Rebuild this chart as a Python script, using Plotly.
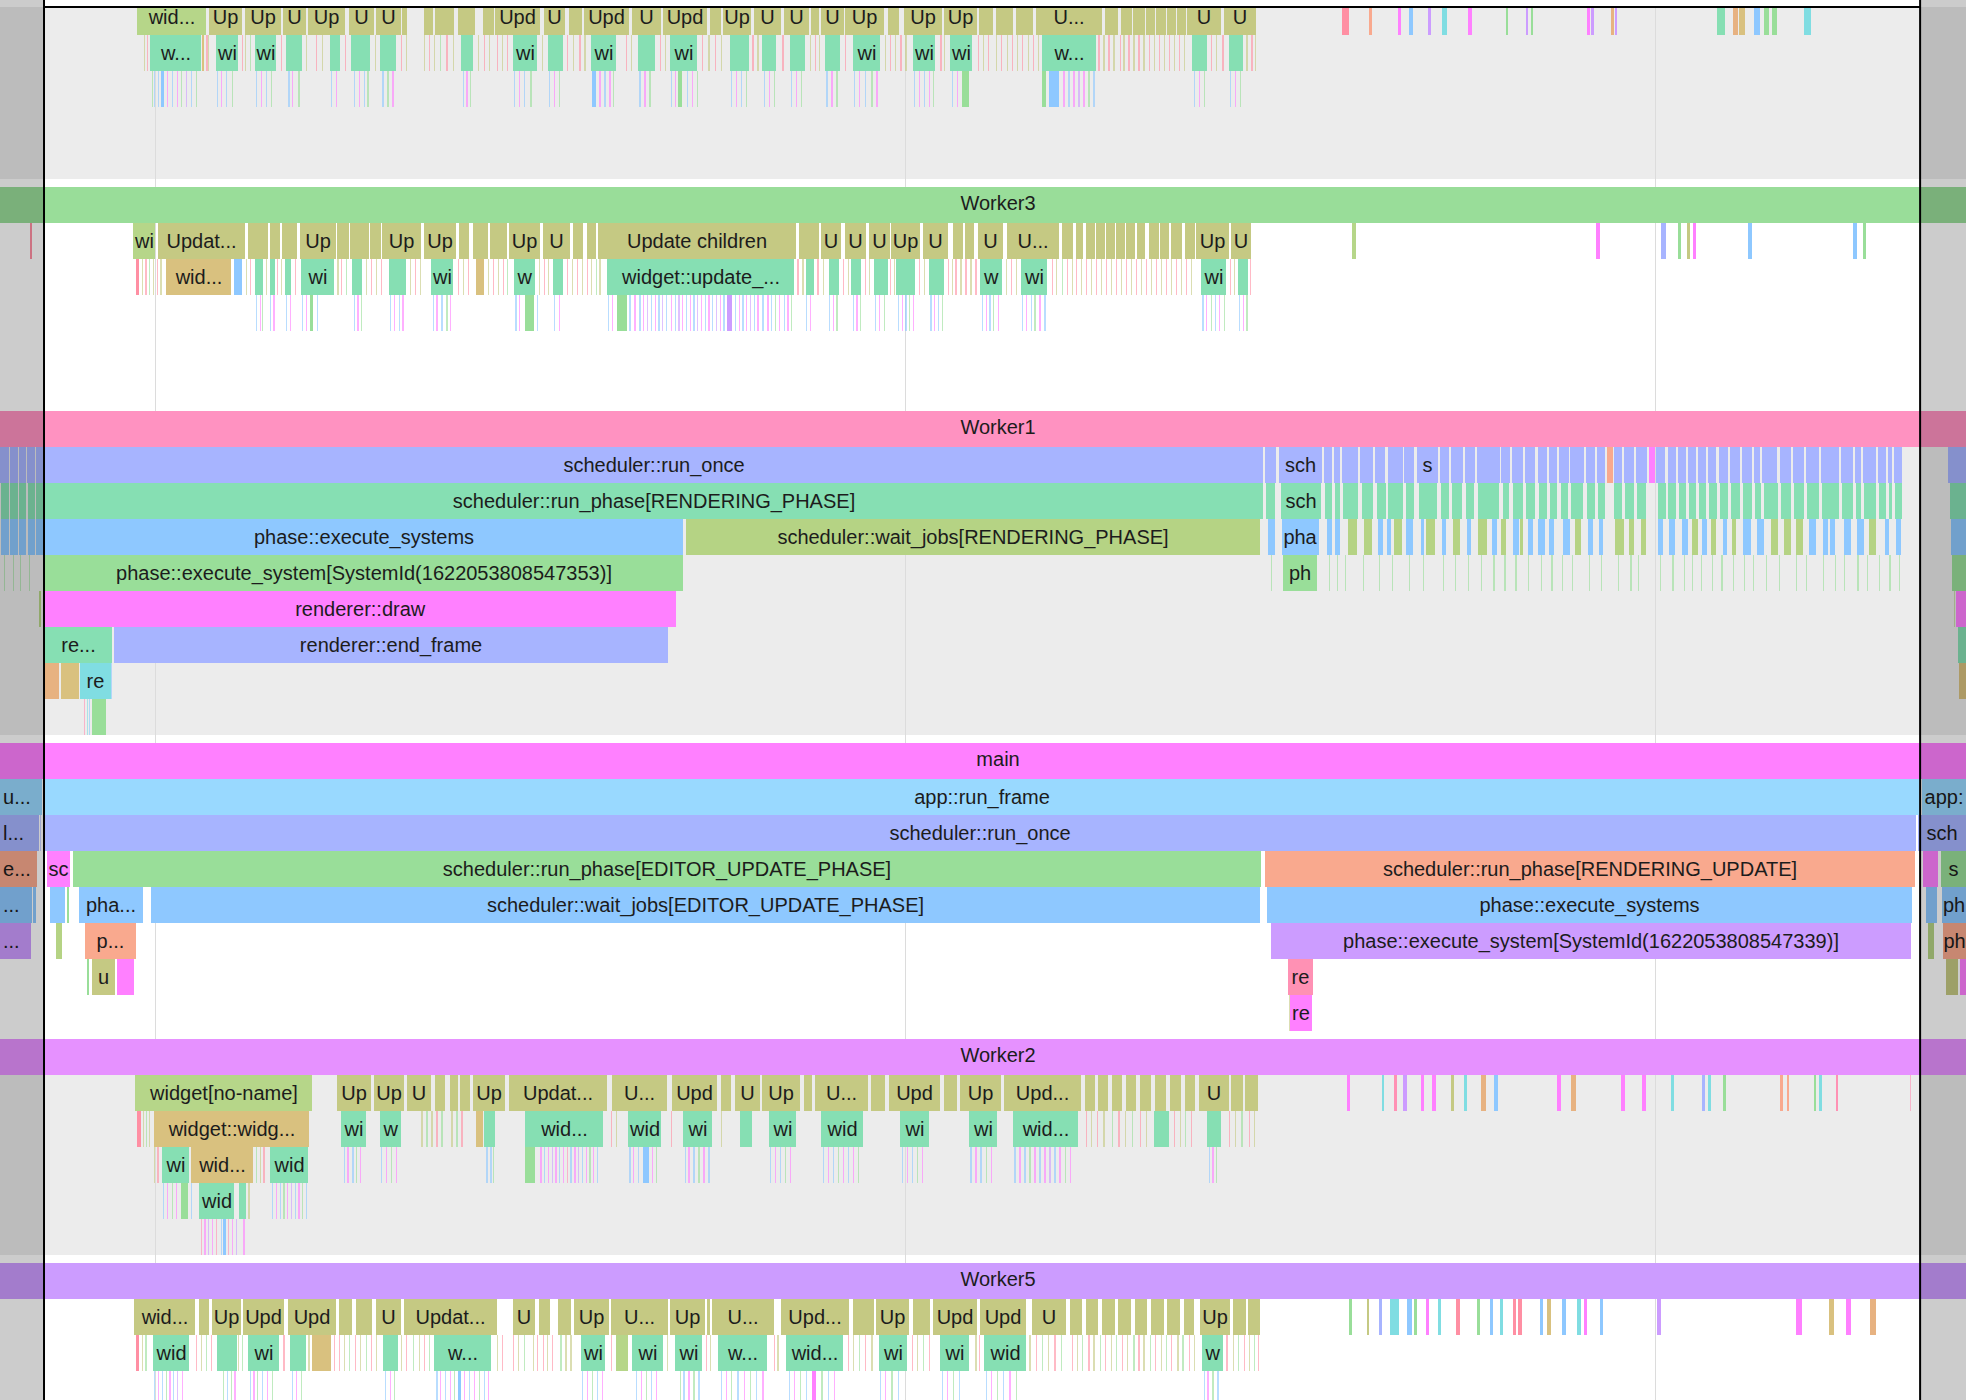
import plotly.graph_objects as go

# ---------------- view / layout constants (time axis in "ticks") ----------------
T_MIN, T_MAX = 0, 1568            # visible time window
VIEW_START, VIEW_END = 35.1, 1531.4   # selected viewport (outside is dimmed)
GRID_T = [124, 722, 1320]         # time grid lines
HEADER_TEXT_T = 796

LANES = ["Worker4", "Worker3", "Worker1", "main", "Worker2", "Worker5"]
LANE_ROWS = [5, 5, 8, 7, 5, 5]
LANE_HEADER_KIND = ["cy", "h_w3", "h_w1", "h_main", "h_w2", "h_w5"]

PALETTE = {
    "ol": "#c5c983", "yg": "#b6d689", "tq": "#86dfb3", "tan": "#d9c17f",
    "or": "#e7b281", "pb": "#a7b4ff", "sky": "#8ec8ff", "lsky": "#99d9ff",
    "gr": "#99de99", "og": "#b5d384", "mg": "#ff80ff", "pk": "#ff91b4",
    "rd": "#ff8fa3", "sal": "#f9a98e", "lav": "#cc9cff", "cy": "#80dde2",
    "h_w3": "#99dd99", "h_w1": "#ff92c1", "h_main": "#ff80ff",
    "h_w2": "#e691ff", "h_w5": "#cc9cff",
}

# ---------------- spans: (start, end, [label,] kind) ----------------
W4_D0 = [(109,164,"wid...","yg"),(167,193,"Up","ol"),(195,224,"Up","ol"),(226,244,"U","ol"),(246,275,"Up","ol"),
         (278,298,"U","ol"),(300,320,"U","ol"),(321,325,"ol"),(338,345,"ol"),(347,362,"ol"),(365,379,"ol"),(385,394,"ol"),
         (395,431,"Upd","ol"),(434,451,"U","ol"),(454,464,"ol"),(466,502,"Upd","ol"),(504,527,"U","ol"),(529,564,"Upd","ol"),
         (566,575,"ol"),(577,599,"Up","ol"),(601,623,"U","ol"),(625,645,"U","ol"),(647,653,"ol"),(655,673,"U","ol"),
         (674,705,"Up","ol"),(708,717,"ol"),(721,751,"Up","ol"),(753,779,"Up","ol"),(781,792,"ol"),(794,808,"ol"),
         (810,824,"ol"),(826,879,"U...","ol"),(881,892,"ol"),(894,903,"ol"),(904,913,"ol"),(914,921,"ol"),(922,930,"ol"),
         (931,938,"ol"),(939,946,"ol"),(947,974,"U","ol"),(976,1002,"U","ol"),
         (1070.7,1075.8,"rd"),(1092,1094.4,"sal"),(1115,1117,"mg"),(1124,1127,"sky"),(1138.8,1141,"lav"),(1150,1154,"cy"),
         (1171,1174,"mg"),(1200.8,1203,"gr"),(1217,1219,"lav"),(1221.5,1223,"gr"),(1266,1268.5,"mg"),(1269,1271,"lav"),
         (1285,1287,"or"),(1288,1290,"lav"),(1369.5,1376,"tq"),(1382,1386,"or"),(1387,1392,"tan"),(1399,1403.5,"sky"),
         (1407,1411,"gr"),(1413,1417,"gr"),(1439,1444,"cy")]
W4_D1 = [(120,160,"w...","tq"),(161,163,"tan"),(172,190,"wi","tq"),(203,220,"wi","tq"),(228,241,"tq"),(263,271,"tq"),
         (280,295,"tq"),(303,316,"tq"),(368,377,"tq"),(409,428,"wi","tq"),(437,449,"tq"),(471,491,"wi","tq"),(509,522,"tq"),
         (534,556,"wi","tq"),(582,597,"tq"),(608,619,"tq"),(630,642,"tq"),(658,670,"tq"),(680,702,"wi","tq"),
         (728,746,"wi","tq"),(758,775,"wi","tq"),(831,874,"w...","tq"),(951,963,"tq"),(980,991,"tq"),
         (115,116,"ol"),(117,118,"rd"),(164.5,165.5,"rd"),(166,167,"ol"),(193,194,"rd"),(195.5,196.5,"ol"),(199,200,"gr"),
         (224,225,"rd"),(244,245,"ol"),(252,253,"rd"),(257,258,"ol"),(275,276,"rd"),(299,300,"ol"),(320,321,"rd"),
         (324,325,"ol"),(338,339,"ol"),(342,343,"rd"),(346,347,"ol"),(351,352,"gr"),(356,357,"rd"),(361,362,"ol"),
         (381,382,"ol"),(386,387,"rd"),(390,391,"ol"),(396,397,"rd"),(400,401,"ol"),(404,405,"rd"),(432,433,"ol"),
         (452,453,"rd"),(457,458,"ol"),(462,463,"rd"),(466,467,"ol"),(499,500,"rd"),(503,504,"ol"),(526,527,"rd"),
         (530,531,"ol"),(560,561,"rd"),(565,566,"ol"),(570,571,"rd"),(575,576,"ol"),(600,601,"rd"),(604,605,"ol"),
         (624,625,"rd"),(646,647,"ol"),(650,651,"rd"),(653,654,"ol"),(674,675,"rd"),(706,707,"ol"),(710,711,"rd"),
         (714,715,"ol"),(718,719,"rd"),(722,723,"ol"),(750,751,"rd"),(752.5,753.5,"ol"),(780,781,"rd"),(784,785,"ol"),
         (788,789,"rd"),(794,795,"ol"),(798,799,"rd"),(803,804,"ol"),(807,808,"rd"),(811,812,"ol"),(815,816,"rd"),
         (820,821,"ol"),(824,825,"rd"),(828,829,"ol"),(876,877,"rd"),(880,881,"ol"),(884,885,"rd"),(888,889,"ol"),
         (893,894,"rd"),(896,897,"ol"),(900,901,"rd"),(904,905,"ol"),(908,909,"rd"),(912,913,"ol"),(916,917,"rd"),
         (920,921,"ol"),(924,925,"rd"),(928,929,"ol"),(932,933,"rd"),(936,937,"ol"),(940,941,"rd"),(944,945,"ol"),
         (966,967,"rd"),(970,971,"ol"),(975,976,"rd"),(994,995,"ol"),(998,999,"rd"),(1001,1002,"ol")]
W4_D2 = [(121,122,"gr"),(123,124,"sky"),(126,127,"sky"),(128.5,131,"sky"),(133,134,"mg"),(137,138,"sky"),(141,142,"mg"),
         (144,145,"gr"),(148,149,"lav"),(152,153,"sky"),(156,157,"gr"),(173,174,"sky"),(176,177,"mg"),(180,181,"sky"),
         (185,186,"gr"),(204,205,"sky"),(208,209,"mg"),(212,213,"sky"),(216,217,"gr"),(230,231,"sky"),(233,234,"mg"),
         (238,239,"gr"),(264,265,"sky"),(268,269,"mg"),(282,283,"sky"),(286,287,"mg"),(290,291,"sky"),(293,294,"gr"),
         (305,306,"sky"),(309,310,"gr"),(313,314,"mg"),(369,370,"sky"),(372,373,"mg"),(375,376,"gr"),(410,411,"sky"),
         (414,415,"mg"),(418,419,"sky"),(423,424,"gr"),(438,439,"sky"),(442,443,"mg"),(446,447,"gr"),(472,475,"sky"),
         (478,479,"mg"),(482,483,"sky"),(486,487,"mg"),(489,490,"gr"),(510,511,"sky"),(514,515,"mg"),(518,519,"gr"),
         (535,536,"sky"),(538,539,"mg"),(541,544,"gr"),(548,549,"sky"),(552,553,"mg"),(556,557,"gr"),(583,584,"sky"),
         (587,588,"mg"),(591,592,"sky"),(595,596,"gr"),(609,610,"sky"),(613,614,"mg"),(617,618,"gr"),(631,632,"sky"),
         (635,636,"mg"),(639,640,"gr"),(659,660,"sky"),(663,664,"mg"),(667,668,"gr"),(681,682,"sky"),(685,686,"mg"),
         (690,691,"sky"),(695,696,"gr"),(699,700,"mg"),(729,730,"sky"),(733,734,"mg"),(737,738,"sky"),(741,742,"mg"),
         (744,745,"gr"),(759,760,"sky"),(763,764,"mg"),(767,773,"gr"),(831,834,"gr"),(837,845,"sky"),(848,849,"mg"),
         (852,853,"sky"),(856,857,"mg"),(860,861,"lav"),(864,865,"mg"),(868,869,"gr"),(872,873,"sky"),(952,953,"sky"),
         (956,957,"mg"),(960,961,"gr"),(981,982,"sky"),(985,986,"mg"),(989,990,"gr")]

W3_D0 = [(24,25.6,"rd"),(106,124,"wi","yg"),(126,195,"Updat...","ol"),(198,214,"ol"),(215,223,"ol"),(225,237,"ol"),
         (239,268,"Up","ol"),(269,278,"ol"),(279,294,"ol"),(295,304,"ol"),(305,336,"Up","ol"),(338,364,"Up","ol"),
         (366,374,"ol"),(377,389,"ol"),(391,404,"ol"),(406,431,"Up","ol"),(433,455,"U","ol"),(457,465,"ol"),(468,475,"ol"),
         (477,635,"Update children","ol"),(637,653,"ol"),(655,671,"U","ol"),(674,691,"U","ol"),(693,710,"U","ol"),
         (711,734,"Up","ol"),(736,756,"U","ol"),(760,768,"ol"),(770,777,"ol"),(780,800,"U","ol"),(803,845,"U...","ol"),
         (847,856,"ol"),(858,864,"ol"),(866,873,"ol"),(874,881,"ol"),(882,889,"ol"),(890,897,"ol"),(898,905,"ol"),
         (907,913,"ol"),(916,924,"ol"),(925,932,"ol"),(934,943,"ol"),(945,953,"ol"),(954,980,"Up","ol"),(982,998,"U","ol"),
         (1078,1081.5,"yg"),(1272.6,1275.7,"mg"),(1325,1328.5,"pb"),(1338.5,1341,"gr"),(1345.5,1347.5,"ol"),
         (1350,1352.5,"mg"),(1394,1397,"sky"),(1478,1481,"sky"),(1486,1488,"gr")]
W3_D1 = [(108.6,110.7,"rd"),(132,184,"wid...","tan"),(187,193,"sky"),(203,210,"tq"),(215,219,"tq"),(227,232,"tq"),
         (240,266,"wi","tq"),(281,289,"tq"),(310,324,"tq"),(344,361,"wi","tq"),(380,386,"tan"),(410,427,"w","tq"),
         (441,449,"tq"),(484,633,"widget::update_...","tq"),(643,649,"tq"),(661,669,"tq"),(679,687,"tq"),(697,708,"tq"),
         (715,730,"tq"),(741,753,"tq"),(782,799,"w","tq"),(814,835,"wi","tq"),(958,978,"wi","tq"),(987,995,"tq"),
         (113,114,"ol"),(116,117,"rd"),(119,120,"gr"),(122,123,"ol"),(125,126,"rd"),(128,129,"ol"),(196,197,"ol"),
         (199,200,"rd"),(212,213,"ol"),(221,222,"rd"),(224,225,"ol"),(235,236,"rd"),(269,270,"ol"),(272,273,"rd"),
         (276,277,"gr"),(292,293,"ol"),(296,297,"rd"),(300,301,"ol"),(304,305,"rd"),(327,328,"ol"),(331,332,"rd"),
         (335,336,"ol"),(365,366,"rd"),(369,370,"ol"),(373,374,"rd"),(389,390,"ol"),(393,394,"rd"),(397,398,"ol"),
         (401,402,"rd"),(404,405,"gr"),(430,431,"ol"),(434,435,"rd"),(437,438,"ol"),(452,453,"rd"),(456,457,"ol"),
         (460,461,"rd"),(464,465,"ol"),(468,469,"rd"),(471,472,"ol"),(475,476,"gr"),(478,479,"ol"),(636,637,"rd"),
         (640,641,"ol"),(652,653,"rd"),(656,657,"ol"),(672,673,"rd"),(676,677,"ol"),(690,691,"rd"),(693,694,"ol"),
         (710,711,"rd"),(713,714,"ol"),(733,734,"rd"),(737,738,"ol"),(756,757,"rd"),(759,760,"ol"),(762,763,"rd"),
         (766,767,"ol"),(770,771,"rd"),(774,775,"ol"),(778,779,"rd"),(802,803,"ol"),(806,807,"rd"),(810,811,"ol"),
         (839,840,"rd"),(842,843,"ol"),(847,848,"gr"),(851,852,"rd"),(855,856,"ol"),(858,859,"rd"),(862,863,"ol"),
         (866,867,"rd"),(870,871,"ol"),(874,875,"rd"),(878,879,"ol"),(882,883,"rd"),(886,887,"ol"),(890,891,"rd"),
         (894,895,"ol"),(898,899,"rd"),(902,903,"ol"),(906,907,"rd"),(910,911,"ol"),(914,915,"rd"),(918,919,"ol"),
         (922,923,"rd"),(926,927,"ol"),(930,931,"rd"),(934,935,"ol"),(938,939,"rd"),(942,943,"ol"),(946,947,"rd"),
         (950,951,"ol"),(981,982,"rd"),(984,985,"ol"),(997,998,"rd")]
W3_D2 = [(204,205,"sky"),(207,208,"mg"),(209,210,"gr"),(215.5,216.5,"sky"),(218,219,"mg"),(228,229,"sky"),(231,232,"mg"),
         (241,242,"sky"),(244,245,"mg"),(247,250,"gr"),(253,254,"sky"),(282,283,"sky"),(285,286,"mg"),(288,289,"gr"),
         (311,312,"sky"),(314,315,"mg"),(318,319,"sky"),(321,322,"mg"),(345,346,"sky"),(348,349,"mg"),(352,353,"sky"),
         (356,357,"gr"),(359,360,"mg"),(411,412,"sky"),(414,415,"mg"),(419,426,"gr"),(428,429,"sky"),(442,443,"sky"),
         (446,447,"mg"),(485,486,"sky"),(488,489,"mg"),(492,500,"gr"),(502,503,"sky"),(506,507,"mg"),(510,511,"sky"),
         (513,514,"mg"),(516,517,"lav"),(519,520,"sky"),(522,523,"mg"),(525,526,"sky"),(528,529,"lav"),(531,532,"sky"),
         (535,536,"mg"),(538,539,"sky"),(541,542,"lav"),(544,545,"mg"),(547,548,"sky"),(550,551,"mg"),(553,554,"sky"),
         (556,557,"lav"),(559,560,"mg"),(562,563,"sky"),(565,566,"mg"),(568,569,"sky"),(571,572,"lav"),(574,575,"mg"),
         (577,578,"sky"),(580,584,"lav"),(586,587,"sky"),(589,590,"mg"),(592,593,"sky"),(595,596,"mg"),(598,599,"lav"),
         (601,602,"sky"),(604,605,"mg"),(608,609,"sky"),(612,613,"mg"),(615,616,"sky"),(618,619,"gr"),(621,622,"mg"),
         (625,626,"sky"),(628,629,"mg"),(631,632,"gr"),(643,644,"sky"),(646,647,"mg"),(661,662,"sky"),(664,665,"mg"),
         (667,668,"gr"),(680,681,"sky"),(683,684,"mg"),(686,687,"gr"),(698,699,"sky"),(701,702,"mg"),(705,706,"gr"),
         (716,717,"sky"),(719,720,"mg"),(722,723,"sky"),(725,726,"gr"),(728,729,"mg"),(742,743,"sky"),(745,746,"mg"),
         (748,749,"sky"),(751,752,"gr"),(783,784,"sky"),(786,787,"mg"),(789,790,"sky"),(792,793,"gr"),(796,797,"mg"),
         (815,816,"sky"),(818,819,"mg"),(822,823,"sky"),(825,826,"gr"),(829,830,"mg"),(833,834,"sky"),(959,960,"sky"),
         (962,963,"mg"),(966,967,"gr"),(969,970,"sky"),(972,973,"mg"),(976,977,"gr"),(988,989,"sky"),(991,992,"mg"),
         (994,995,"gr")]

W1_D0 = [(0,7,"pb"),(8,14,"pb"),(15,21,"pb"),(21.7,28,"pb"),(29,34,"pb"),(35.5,1007,"scheduler::run_once","pb"),
         (1009,1018,"pb"),(1020,1054.5,"sch","pb"),(1056,1062.5,"pb"),(1064,1069,"pb"),(1070,1083,"pb"),(1085,1095,"pb"),
         (1097,1105,"pb"),(1107,1119,"pb"),(1120,1128,"pb"),(1130,1147,"s","pb"),(1148.5,1156,"pb"),(1157.6,1166.7,"pb"),
         (1168.5,1176,"pb"),(1178,1196,"pb"),(1197,1204,"pb"),(1206,1215,"pb"),(1216.6,1224.6,"pb"),(1226.5,1233.7,"pb"),
         (1235.5,1241.7,"pb"),(1243.6,1251,"pb"),(1252,1263,"pb"),(1264.7,1272,"pb"),(1273.8,1280,"pb"),
         (1281.4,1286.5,"sal"),(1287.6,1293.8,"pb"),(1295.6,1303,"pb"),(1304.7,1313.8,"pb"),(1315,1319.7,"mg"),
         (1321,1328,"pb"),(1330,1337,"pb"),(1338.6,1344.8,"pb"),(1346.6,1352.8,"pb"),(1354,1360.5,"pb"),(1362,1369,"pb"),
         (1370.7,1378,"pb"),(1379.4,1387.4,"pb"),(1389,1397.6,"pb"),(1399,1404,"pb"),(1405.6,1417.6,"pb"),
         (1419.5,1428.6,"pb"),(1430.4,1438.4,"pb"),(1440.6,1450.4,"pb"),(1452,1466.8,"pb"),(1468.6,1477.7,"pb"),
         (1479.6,1484.3,"pb"),(1485.8,1496,"pb"),(1497.8,1504,"pb"),(1505.4,1508.7,"pb"),(1510.5,1516.7,"pb"),
         (1553.5,1568,"pb")]
W1_D1 = [(0.5,7,"tq"),(8,14,"tq"),(15,21,"tq"),(22,28,"tq"),(29,34,"tq"),
         (35.5,1007,"scheduler::run_phase[RENDERING_PHASE]","tq"),(1010,1017,"tq"),(1021.8,1053.5,"sch","tq"),
         (1057,1062.6,"tq"),(1064.4,1068.7,"tq"),(1071,1083.3,"tq"),(1086.2,1095.3,"tq"),(1098.2,1105.2,"tq"),
         (1107.4,1119,"tq"),(1121.6,1127.4,"tq"),(1131.8,1146.3,"tq"),(1149.2,1155.4,"tq"),(1158.3,1166.4,"tq"),
         (1169.3,1175.5,"tq"),(1179.1,1195.5,"tq"),(1198.4,1203.9,"tq"),(1206.4,1214.4,"tq"),(1217.3,1223.9,"tq"),
         (1227.2,1233.7,"tq"),(1236.3,1241.4,"tq"),(1244.7,1250.8,"tq"),(1253,1262.9,"tq"),(1265.4,1272,"tq"),
         (1274.5,1280,"tq"),(1287.6,1293.8,"tq"),(1296.4,1302.9,"tq"),(1305.5,1313.1,"tq"),(1322.2,1328.4,"tq"),
         (1330.6,1336.8,"tq"),(1339.3,1344.8,"tq"),(1347.4,1352.8,"tq"),(1355,1360.5,"tq"),(1363,1369.2,"tq"),
         (1371.4,1378,"tq"),(1380.5,1387.4,"tq"),(1390,1397.6,"tq"),(1399.8,1404.2,"tq"),(1406.7,1417.7,"tq"),
         (1420.2,1428.6,"tq"),(1431.1,1438.4,"tq"),(1441.3,1450.4,"tq"),(1453,1466.8,"tq"),(1469.4,1477.7,"tq"),
         (1480.3,1484.3,"tq"),(1486.5,1496,"tq"),(1498.5,1504,"tq"),(1506.2,1508.7,"tq"),(1511.2,1516.7,"tq"),
         (1555,1568,"tq")]
W1_D2 = [(0.5,7,"sky"),(8,14,"sky"),(15,21,"sky"),(22,28,"sky"),(29,34,"sky"),
         (35.5,545,"phase::execute_systems","sky"),(547.5,1005,"scheduler::wait_jobs[RENDERING_PHASE]","og"),
         (1011,1017,"sky"),(1022.5,1051.6,"pha","sky"),(1058.2,1062.6,"sky"),(1064.7,1068.4,"sky"),(1075.3,1082.6,"og"),
         (1088,1094.6,"og"),(1099,1103.3,"sky"),(1106.3,1109.2,"sky"),(1112,1118,"og"),(1121.6,1127,"sky"),
         (1133.6,1135.4,"sky"),(1137.2,1144.5,"og"),(1150,1152.9,"sky"),(1159,1164.5,"og"),(1170,1173.6,"sky"),
         (1179.1,1185.7,"og"),(1190,1193.7,"sky"),(1197.3,1201,"og"),(1206.4,1211.2,"sky"),(1211.9,1214.8,"og"),
         (1218.4,1222.8,"sky"),(1226.4,1231.9,"sky"),(1235.6,1239.2,"sky"),(1246.5,1252,"sky"),(1256.3,1261,"og"),
         (1266.5,1270.2,"sky"),(1275.6,1278.2,"sky"),(1288.4,1295.6,"og"),(1299.3,1303,"og"),(1308.4,1312.4,"og"),
         (1322.2,1326.6,"sky"),(1331.3,1335.7,"sky"),(1341.2,1346.6,"sky"),(1349.5,1353.9,"og"),(1357.6,1361.2,"sky"),
         (1364.8,1368.5,"og"),(1374,1377.6,"sky"),(1381.2,1384.9,"og"),(1390.3,1396.9,"sky"),(1401.3,1406.7,"sky"),
         (1412.2,1417.7,"og"),(1423.1,1428.6,"og"),(1432.2,1437.7,"og"),(1443.1,1448.6,"sky"),(1454,1457.7,"sky"),
         (1459.5,1463.2,"sky"),(1470.5,1475.9,"sky"),(1481.4,1486.8,"sky"),(1490.5,1496,"og"),(1503.2,1506.9,"sky"),
         (1512.3,1516,"sky"),(1556,1568,"sky")]
W1_D3 = [(3.5,4.3,"gr"),(10.7,11.5,"gr"),(16,16.8,"gr"),(23,23.8,"gr"),
         (35.5,544.7,"phase::execute_system[SystemId(1622053808547353)]","gr"),(1023,1050,"ph","gr"),
         (1013.4,1014.3,"gr"),(1059.6,1060.5,"gr"),(1066.2,1067.1,"gr"),(1072.8,1073.7,"gr"),(1087.3,1088.2,"gr"),
         (1099.7,1100.6,"gr"),(1109.9,1110.8,"gr"),(1123.4,1124.3,"gr"),(1134.7,1135.6,"gr"),(1151.1,1152,"gr"),
         (1160.2,1161.1,"gr"),(1171.1,1172,"gr"),(1180.9,1181.8,"gr"),(1191.1,1192,"gr"),(1199.9,1200.8,"gr"),
         (1208.6,1209.5,"gr"),(1218.4,1219.3,"gr"),(1229,1229.9,"gr"),(1237.4,1238.3,"gr"),(1245.7,1246.6,"gr"),
         (1253.8,1254.7,"gr"),(1267.2,1268.1,"gr"),(1276.7,1277.6,"gr"),(1290.2,1291.1,"gr"),(1300.4,1301.3,"gr"),
         (1306.6,1307.5,"gr"),(1324.1,1325,"gr"),(1333.9,1334.8,"gr"),(1343,1343.9,"gr"),(1349.5,1350.4,"gr"),
         (1356.8,1357.7,"gr"),(1365.6,1366.5,"gr"),(1372.9,1373.8,"gr"),(1382.3,1383.2,"gr"),(1391.1,1392,"gr"),
         (1398.4,1399.3,"gr"),(1408.5,1409.4,"gr"),(1418.7,1419.6,"gr"),(1432.2,1433.1,"gr"),(1440.6,1441.5,"gr"),
         (1454.1,1455,"gr"),(1463.2,1464.1,"gr"),(1470.5,1471.4,"gr"),(1481.4,1482.3,"gr"),(1488.7,1489.6,"gr"),
         (1498.9,1499.8,"gr"),(1506.9,1507.8,"gr"),(1514.2,1515.1,"gr"),(1557,1568,"gr")]
W1_D4 = [(31,33,"og"),(35.6,539.3,"renderer::draw","mg"),(1558.5,1559.5,"og"),(1560,1568,"mg")]
W1_D5 = [(35.6,89.7,"re...","tq"),(90.8,533,"renderer::end_frame","pb"),(1561.5,1568,"tq")]
W1_D6 = [(35.6,47,"or"),(48.8,63,"tan"),(64,88.3,"re","cy"),(88.4,89.6,"sky"),(1562.6,1568,"tan")]
W1_D7 = [(67,67.8,"pk"),(69.5,70.3,"cy"),(71,72,"sky"),(73,84.7,"gr")]

MAIN_D0 = [(0,33.5,"u...","lsky"),(35,1531.5,"app::run_frame","lsky"),(1533,1568,"app:","lsky")]
MAIN_D1 = [(0,31.3,"l...","pb"),(32,33,"pb"),(35,1528,"scheduler::run_once","pb"),(1530,1568,"sch","pb")]
MAIN_D2 = [(0,29.2,"e...","sal"),(37.4,56,"sc","mg"),(58,1006,"scheduler::run_phase[EDITOR_UPDATE_PHASE]","gr"),
           (1009,1527,"scheduler::run_phase[RENDERING_UPDATE]","sal"),(1533.7,1546,"mg"),(1548,1568,"s","gr")]
MAIN_D3 = [(0,25.6,"...","sky"),(26.7,28.5,"sky"),(40,52,"sky"),(53.4,55,"gr"),(62.7,114,"pha...","sky"),
           (120.3,1004.6,"scheduler::wait_jobs[EDITOR_UPDATE_PHASE]","sky"),
           (1010.9,1525,"phase::execute_systems","sky"),(1535.7,1545,"sky"),(1549,1568,"ph","sky")]
MAIN_D4 = [(0,24.9,"...","lav"),(44.5,49.8,"og"),(67.6,108.6,"p...","sal"),
           (1013.6,1524,"phase::execute_system[SystemId(1622053808547339)]","lav"),(1537.6,1542.7,"og"),
           (1550,1568,"ph","sal")]
MAIN_D5 = [(69.4,71,"gr"),(73,91.8,"u","ol"),(93.3,106.8,"mg"),(1027.2,1047.5,"re","pk"),(1552,1562,"ol"),
           (1563,1568,"mg")]
MAIN_D6 = [(1028,1028.8,"ol"),(1029,1046.7,"re","mg")]

W2_D0 = [(107.5,249,"widget[no-name]","yg"),(268.4,295.5,"Up","ol"),(298,322,"Up","ol"),(324.7,344,"U","ol"),
         (347,355,"ol"),(359,365,"ol"),(366.7,375,"ol"),(377,403,"Up","ol"),(406,484,"Updat...","ol"),
         (488,532,"U...","ol"),(536,572,"Upd","ol"),(575,583,"ol"),(586,606,"U","ol"),(608,638,"Up","ol"),
         (641,648,"ol"),(650,692,"U...","ol"),(695,706,"ol"),(709,750,"Upd","ol"),(753,763,"ol"),(766,798,"Up","ol"),
         (801,862,"Upd...","ol"),(865,873,"ol"),(876,884,"ol"),(887,895,"ol"),(898,906,"ol"),(909,918,"ol"),
         (921,930,"ol"),(933,942,"ol"),(945,953,"ol"),(956,980,"U","ol"),(982,991,"ol"),(993,1003,"ol"),
         (1074,1077,"mg"),(1102,1104,"cy"),(1112,1114.5,"pk"),(1119,1122,"lav"),(1133,1135.5,"mg"),(1142,1145,"mg"),
         (1157,1160,"ol"),(1167.5,1170,"cy"),(1181.5,1185.4,"or"),(1191.6,1194.4,"sky"),(1242,1245,"mg"),
         (1253,1256.7,"or"),(1293,1296,"mg"),(1309.7,1312.4,"mg"),(1332.7,1335.4,"cy"),(1357.6,1360,"pb"),
         (1362,1364.6,"cy"),(1374.4,1376.7,"gr"),(1419.5,1422,"sal"),(1425,1427,"sal"),(1446.8,1448.7,"gr"),
         (1451,1453,"cy"),(1464,1466,"pk"),(1523,1524,"pk")]
W2_D1 = [(109.6,112.5,"rd"),(114,115,"ol"),(116.5,117.5,"gr"),(119,120,"ol"),(122.8,246.7,"widget::widg...","tan"),
         (272,292,"wi","tq"),(303,320,"w","tq"),(336,337,"ol"),(340,341,"gr"),(344,345,"ol"),(348,349,"rd"),
         (352,353,"gr"),(360,361,"ol"),(364,365,"gr"),(368,369,"rd"),(380,385,"tan"),(386,395,"tq"),
         (419,480.6,"wid...","tq"),(487,488,"rd"),(491,492,"ol"),(501,527,"wid","tq"),(535,536,"rd"),
         (545,568,"wi","tq"),(575,576,"ol"),(590,600,"tq"),(613,635,"wi","tq"),(655,688,"wid","tq"),
         (718,741,"wi","tq"),(773,795,"wi","tq"),(808,860,"wid...","tq"),(866,867,"rd"),(870,871,"ol"),(875,876,"rd"),
         (880,881,"ol"),(887,888,"gr"),(892,893,"rd"),(897,898,"ol"),(903,904,"gr"),(909,910,"rd"),(914,915,"ol"),
         (920,932,"tq"),(936,937,"rd"),(941,942,"ol"),(945,946,"gr"),(950,951,"rd"),(963,973.5,"tq"),(980,981,"rd"),
         (985,986,"ol"),(990,991,"gr"),(996,997,"rd"),(1000,1001,"ol")]
W2_D2 = [(123,124,"ol"),(125.5,126.5,"rd"),(129,151,"wi","tq"),(152.4,202,"wid...","tan"),(204,205,"gr"),(207,208,"ol"),
         (210,211,"rd"),(215,245.6,"wid","tq"),(274,275,"sky"),(277,278,"mg"),(281,282,"sky"),(284,285,"gr"),
         (287,288,"mg"),(304,305,"sky"),(308,309,"mg"),(312,313,"gr"),(316,317,"mg"),(388,389,"sky"),(391,392,"sky"),
         (393,394,"gr"),(419,427,"gr"),(431,432,"mg"),(434,435,"sky"),(437,438,"mg"),(440,441,"lav"),(443,444,"mg"),
         (446,447,"sky"),(449,450,"mg"),(452,453,"pk"),(455,456,"sky"),(458,459,"mg"),(461,462,"lav"),(464,465,"sky"),
         (467,468,"mg"),(470,471,"gr"),(473,474,"mg"),(476,477,"sky"),(502,503,"sky"),(505,506,"mg"),(509,510,"sky"),
         (513,518,"sky"),(520,521,"mg"),(523,524,"gr"),(546,547,"sky"),(549,550,"mg"),(553,554,"sky"),(557,558,"gr"),
         (561,562,"mg"),(565,566,"sky"),(614,615,"sky"),(618,619,"mg"),(622,623,"sky"),(626,627,"gr"),(630,631,"mg"),
         (656,657,"sky"),(660,661,"mg"),(664,665,"sky"),(668,669,"gr"),(672,673,"mg"),(676,677,"sky"),(680,681,"mg"),
         (684,685,"gr"),(719,720,"sky"),(723,724,"mg"),(727,728,"sky"),(731,732,"gr"),(735,736,"mg"),(774,775,"sky"),
         (778,779,"mg"),(782,783,"sky"),(786,787,"gr"),(790,791,"mg"),(809,810,"sky"),(813,814,"mg"),(817,818,"sky"),
         (821,822,"gr"),(825,826,"mg"),(829,830,"sky"),(833,834,"mg"),(837,838,"lav"),(841,842,"sky"),(845,846,"mg"),
         (849,850,"gr"),(853,854,"mg"),(964,965,"sky"),(967,968,"mg"),(970,971,"gr")]
W2_D3 = [(130,131,"sky"),(133,134,"mg"),(137,138,"gr"),(140,141,"mg"),(144,150,"gr"),(152,153,"sky"),
         (158.4,187,"wid","tq"),(191,196.5,"tq"),(198,199,"ol"),(217,218,"sky"),(220,221,"mg"),(223,224,"sky"),
         (226,227,"gr"),(229,230,"mg"),(232,233,"lav"),(235,236,"sky"),(238,239,"mg"),(241,242,"gr"),(244,245,"sky")]
W2_D4 = [(160,161,"pk"),(163,164,"mg"),(165.5,166.5,"lav"),(169,170,"mg"),(172,173,"pk"),(176,177,"sky"),
         (178,180,"sky"),(182,183,"pk"),(185,186,"mg"),(188,189,"lav"),(194,195,"mg")]

W5_D0 = [(106.8,155.6,"wid...","ol"),(158.4,167,"ol"),(169,192,"Up","ol"),(194,226.8,"Upd","ol"),(229.6,268,"Upd","ol"),
         (270,281,"ol"),(283.7,296.5,"ol"),(299.8,319.7,"U","ol"),(322,396,"Updat...","ol"),(409.4,426.5,"U","ol"),
         (430,438.6,"ol"),(445,455.7,"ol"),(458,486,"Up","ol"),(487.7,533,"U...","ol"),(534.7,562,"Up","ol"),
         (564,566.5,"ol"),(568,617,"U...","ol"),(623,677,"Upd...","ol"),(680,697,"ol"),(699,725,"Up","ol"),
         (728,742,"ol"),(744,779,"Upd","ol"),(782,818,"Upd","ol"),(823,850,"U","ol"),(853,863,"ol"),(866,876,"ol"),
         (879,889,"ol"),(892,902,"ol"),(905,915,"ol"),(918,928,"ol"),(931,941,"ol"),(944,952,"ol"),(957,981,"Up","ol"),
         (983,993.7,"ol"),(995,1005,"ol"),
         (1076,1078.6,"gr"),(1090,1092,"ol"),(1099.7,1102,"pb"),(1109,1116,"cy"),(1122,1126,"sky"),(1127.7,1130.5,"gr"),
         (1137,1140,"mg"),(1146.5,1149,"cy"),(1161,1164.8,"rd"),(1177.6,1180,"gr"),(1188.5,1191,"sky"),(1196,1199,"cy"),
         (1206.5,1209,"rd"),(1211,1213.5,"rd"),(1228.6,1231,"sky"),(1234,1237,"tan"),(1245.8,1249,"sky"),
         (1258,1261,"cy"),(1263,1265.7,"mg"),(1275.8,1278.5,"sky"),(1321.4,1325,"lav"),(1432.8,1437.5,"mg"),
         (1459,1462.8,"tan"),(1472,1476,"mg"),(1491.6,1496,"or")]
W5_D1 = [(108.6,110.7,"rd"),(122,151,"wid","tq"),(160,161,"ol"),(164,165,"gr"),(168,169,"rd"),(173,188.7,"tq"),
         (197.6,222.5,"wi","tq"),(231,244,"tq"),(249,264,"tan"),(270,271,"rd"),(274,275,"ol"),(278,279,"gr"),
         (283,284,"rd"),(287,288,"ol"),(292,293,"gr"),(296,297,"rd"),(300,301,"ol"),(305.5,317.5,"tq"),
         (346,391.6,"w...","tq"),(409,410,"rd"),(413,414,"ol"),(418,419,"gr"),(433,434,"rd"),(436,437,"ol"),
         (447,448,"gr"),(451,452,"ol"),(463.5,482.4,"wi","tq"),(491,501,"yg"),(503.7,528.7,"wi","tq"),
         (538,560,"wi","tq"),(573,612,"w...","tq"),(627,672,"wid...","tq"),(701,723,"wi","tq"),(750,773,"wi","tq"),
         (785,818,"wid","tq"),(959,975.8,"w","tq"),
         (113,114,"ol"),(116,117,"gr"),(156,157,"rd"),(190,191,"ol"),(193,194,"gr"),(226,227,"rd"),(246,247,"ol"),
         (266,267,"rd"),(320,321,"ol"),(324,325,"rd"),(329,330,"gr"),(334,335,"ol"),(338,339,"rd"),(342,343,"gr"),
         (396,397,"ol"),(400,401,"rd"),(425,426,"ol"),(428,429,"rd"),(440,441,"rd"),(455,456,"ol"),(487,488,"rd"),
         (532,533,"ol"),(563,564,"rd"),(566,567,"ol"),(617,618,"rd"),(620,621,"ol"),(676,677,"rd"),(680,681,"ol"),
         (685,686,"gr"),(690,691,"rd"),(695,696,"ol"),(727,728,"rd"),(731,732,"ol"),(736,737,"gr"),(741,742,"rd"),
         (778,779,"ol"),(781,782,"rd"),(821,822,"ol"),(826,827,"rd"),(831,832,"gr"),(836,837,"ol"),(841,842,"rd"),
         (846,847,"gr"),(855,856,"rd"),(859,860,"ol"),(863,864,"gr"),(868,869,"rd"),(872,873,"ol"),(877,878,"gr"),
         (881,882,"rd"),(886,887,"ol"),(890,891,"gr"),(895,896,"rd"),(899,900,"ol"),(904,905,"gr"),(908,909,"rd"),
         (912,913,"ol"),(917,918,"gr"),(921,922,"rd"),(926,927,"ol"),(930,931,"gr"),(934,935,"rd"),(939,940,"ol"),
         (943,944,"gr"),(948,949,"rd"),(952,953,"ol"),(978,979,"rd"),(983,984,"ol"),(987,988,"gr"),(992,993,"rd"),
         (996,997,"ol"),(1000,1001,"gr"),(1003,1004,"rd")]
W5_D2 = [(123,124,"sky"),(126,127,"mg"),(129,130,"sky"),(132,133,"gr"),(135,136,"mg"),(138,139,"sky"),(141,142,"lav"),
         (145,146,"mg"),(178,179,"gr"),(181,182,"sky"),(184,185,"gr"),(187,188,"mg"),(199,200,"sky"),(202,203,"mg"),
         (205,206,"gr"),(209,210,"sky"),(213,214,"mg"),(217,218,"gr"),(233,234,"sky"),(236,237,"mg"),(240,241,"gr"),
         (307,308,"sky"),(311,312,"mg"),(314,315,"gr"),(348,349,"sky"),(351,352,"mg"),(355,356,"sky"),(359,360,"mg"),
         (362,363,"gr"),(365,368,"sky"),(370,371,"mg"),(374,375,"sky"),(378,379,"mg"),(382,383,"gr"),(386,387,"sky"),
         (389,390,"mg"),(464,465,"sky"),(468,469,"mg"),(472,473,"gr"),(476,477,"sky"),(480,481,"mg"),(507,508,"sky"),
         (511,512,"mg"),(515,516,"gr"),(519,520,"sky"),(523,524,"mg"),(542,543,"gr"),(545,546,"sky"),(549,550,"mg"),
         (553,554,"gr"),(557,558,"sky"),(575,576,"sky"),(579,580,"mg"),(583,584,"gr"),(588,589,"sky"),(593,594,"mg"),
         (598,599,"gr"),(603,604,"sky"),(608,609,"mg"),(629,630,"sky"),(633,634,"mg"),(638,639,"gr"),(643,644,"sky"),
         (648,651,"mg"),(655,656,"gr"),(660,661,"sky"),(665,666,"mg"),(702,703,"sky"),(706,707,"mg"),(711,712,"gr"),
         (716,717,"sky"),(751,752,"sky"),(755,756,"mg"),(760,761,"gr"),(765,766,"sky"),(786,787,"sky"),(790,791,"mg"),
         (795,796,"gr"),(800,801,"sky"),(805,806,"mg"),(810,811,"gr"),(960,961,"sky"),(963,964,"mg"),(967,968,"gr"),
         (971,972,"sky")]

LANE_SPANS = {
    "Worker4": [W4_D0, W4_D1, W4_D2],
    "Worker3": [W3_D0, W3_D1, W3_D2],
    "Worker1": [W1_D0, W1_D1, W1_D2, W1_D3, W1_D4, W1_D5, W1_D6, W1_D7],
    "main": [MAIN_D0, MAIN_D1, MAIN_D2, MAIN_D3, MAIN_D4, MAIN_D5, MAIN_D6],
    "Worker2": [W2_D0, W2_D1, W2_D2, W2_D3, W2_D4],
    "Worker5": [W5_D0, W5_D1, W5_D2],
}

# ---------------- geometry (pixel-like y units) ----------------
FIG_W, FIG_H = 1966, 1400
TOP_MARGIN = 7
ROW_H = 36
LANE_GAP = 8
FIRST_LANE_TOP = -37
BG_SHADE = "#ececec"
TEXT_COLOR = "#1c1c1c"
FONT = "Liberation Sans, Arial, sans-serif"


def rgba(hexc, a):
    h = hexc.lstrip("#")
    return "rgba(%d,%d,%d,%.2f)" % (int(h[0:2], 16), int(h[2:4], 16), int(h[4:6], 16), a)


lane_tops = []
y = FIRST_LANE_TOP
for rows in LANE_ROWS:
    lane_tops.append(y)
    y += ROW_H + rows * ROW_H + LANE_GAP

shapes = []
for i, (top, rows) in enumerate(zip(lane_tops, LANE_ROWS)):
    if i % 2 == 0:
        shapes.append(dict(type="rect", xref="paper", yref="y", x0=0, x1=1,
                           y0=top + ROW_H, y1=top + ROW_H + rows * ROW_H,
                           fillcolor=BG_SHADE, line=dict(width=0), layer="below"))

# header bars
hb_base, hb_x, hb_y, hb_col = [], [], [], []
for name, top, hk in zip(LANES, lane_tops, LANE_HEADER_KIND):
    hb_base.append(T_MIN - 60)
    hb_x.append((T_MAX + 60) - (T_MIN - 60))
    hb_y.append(top + ROW_H / 2)
    hb_col.append(PALETTE[hk])

fig = go.Figure()
fig.add_trace(go.Bar(orientation="h", base=hb_base, x=hb_x, y=hb_y, width=ROW_H,
                     marker=dict(color=hb_col, line=dict(width=0)), hoverinfo="skip", showlegend=False))

# spans: normal (centred labels) and left-edge ones (labels anchored at the window start)
groups = {"mid": ([], [], [], [], []), "edge": ([], [], [], [], [])}
for name, top in zip(LANES, lane_tops):
    for depth, spans in enumerate(LANE_SPANS[name]):
        yc = top + ROW_H + depth * ROW_H + ROW_H / 2
        for item in spans:
            if len(item) == 3:
                s, e, k = item
                lab = ""
            else:
                s, e, lab, k = item
            dur = e - s
            g = groups["edge" if (s <= T_MIN and lab) else "mid"]
            g[0].append(s)
            g[1].append(dur)
            g[2].append(yc)
            g[3].append(lab)
            g[4].append(rgba(PALETTE[k], 0.62) if dur <= 1.3 else PALETTE[k])

for key, anchor in (("mid", "middle"), ("edge", "start")):
    b, x, yy, t, c = groups[key]
    fig.add_trace(go.Bar(orientation="h", base=b, x=x, y=yy, width=ROW_H, text=t,
                         textposition="inside", insidetextanchor=anchor, textangle=0,
                         insidetextfont=dict(family=FONT, size=20, color=TEXT_COLOR),
                         textfont=dict(family=FONT, size=20, color=TEXT_COLOR),
                         marker=dict(color=c, line=dict(width=0)), hoverinfo="skip", showlegend=False))

# lane names (only for headers that lie inside the visible area)
name_x, name_y, name_t = [], [], []
for name, top in zip(LANES, lane_tops):
    if top >= TOP_MARGIN:
        name_x.append(HEADER_TEXT_T)
        name_y.append(top + ROW_H / 2)
        name_t.append(name)
fig.add_trace(go.Scatter(x=name_x, y=name_y, text=name_t, mode="text", textposition="middle center",
                         textfont=dict(family=FONT, size=20, color=TEXT_COLOR),
                         hoverinfo="skip", showlegend=False, cliponaxis=True))

# dim outside the selected viewport + viewport frame
ytop_paper = FIG_H / (FIG_H - TOP_MARGIN) + 0.01
shapes.append(dict(type="rect", xref="x", yref="paper", x0=T_MIN - 5, x1=VIEW_START, y0=0, y1=ytop_paper,
                   fillcolor="rgba(0,0,0,0.20)", line=dict(width=0), layer="above"))
shapes.append(dict(type="rect", xref="x", yref="paper", x0=VIEW_END, x1=T_MAX + 5, y0=0, y1=ytop_paper,
                   fillcolor="rgba(0,0,0,0.20)", line=dict(width=0), layer="above"))
for xv in (VIEW_START, VIEW_END):
    shapes.append(dict(type="line", xref="x", yref="paper", x0=xv, x1=xv, y0=0, y1=ytop_paper,
                       line=dict(color="black", width=2), layer="above"))
shapes.append(dict(type="line", xref="x", yref="paper", x0=VIEW_START, x1=VIEW_END, y0=1, y1=1,
                   line=dict(color="black", width=2), layer="above"))

fig.update_layout(
    width=FIG_W, height=FIG_H,
    margin=dict(l=0, r=0, t=TOP_MARGIN, b=0, pad=0),
    paper_bgcolor="white", plot_bgcolor="white",
    barmode="overlay", bargap=0,
    uniformtext=dict(minsize=20, mode="show"),
    shapes=shapes,
    xaxis=dict(range=[T_MIN, T_MAX], tickvals=GRID_T, showgrid=True, gridcolor="#dcdcdc", gridwidth=1,
               showticklabels=False, ticks="", zeroline=False, showline=False, fixedrange=True),
    yaxis=dict(range=[FIG_H, TOP_MARGIN], showgrid=False, showticklabels=False, ticks="",
               zeroline=False, showline=False, fixedrange=True),
    font=dict(family=FONT, size=20, color=TEXT_COLOR),
)

fig.write_html("out.html", config={"displayModeBar": False},
               post_script="document.body.style.margin='0px';document.body.style.overflow='hidden';")
